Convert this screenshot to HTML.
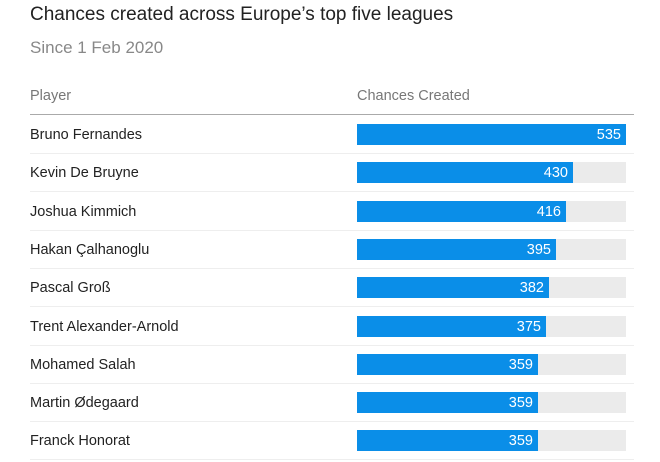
<!DOCTYPE html>
<html><head><style>
body{margin:0;width:660px;height:462px;background:#fff;font-family:"Liberation Sans",sans-serif;position:relative;overflow:hidden}
.t{position:absolute;left:30px;top:4px;font-size:19px;color:#222}
.s{position:absolute;left:30px;top:38px;font-size:17px;color:#888}
.h{position:absolute;top:88px;font-size:14.5px;color:#777}
.hl{position:absolute;left:30px;top:114px;width:604px;height:1px;background:#aaa}
.row{position:absolute;left:30px;width:604px;height:38px;border-bottom:1px solid #eee}
.n{position:absolute;left:0;top:12px;font-size:14.5px;color:#222}
.bg{position:absolute;left:327px;top:9px;width:269px;height:21px;background:#ebebeb}
.b{position:absolute;left:0;top:0;height:21px;background:#0a8ee8;color:#fff;font-size:14.5px;text-align:right;box-sizing:border-box;padding-right:5px;line-height:23px}
</style></head><body>
<div class="t">Chances created across Europe’s top five leagues</div>
<div class="s">Since 1 Feb 2020</div>
<div class="h" style="left:30px">Player</div>
<div class="h" style="left:357px">Chances Created</div>
<div class="hl"></div>
<div class="row" style="top:115px"><div class="n">Bruno Fernandes</div><div class="bg"><div class="b" style="width:269px">535</div></div></div>
<div class="row" style="top:153.3px"><div class="n">Kevin De Bruyne</div><div class="bg"><div class="b" style="width:216px">430</div></div></div>
<div class="row" style="top:191.6px"><div class="n">Joshua Kimmich</div><div class="bg"><div class="b" style="width:209px">416</div></div></div>
<div class="row" style="top:229.9px"><div class="n">Hakan Çalhanoglu</div><div class="bg"><div class="b" style="width:199px">395</div></div></div>
<div class="row" style="top:268.2px"><div class="n">Pascal Groß</div><div class="bg"><div class="b" style="width:192px">382</div></div></div>
<div class="row" style="top:306.5px"><div class="n">Trent Alexander-Arnold</div><div class="bg"><div class="b" style="width:189px">375</div></div></div>
<div class="row" style="top:344.8px"><div class="n">Mohamed Salah</div><div class="bg"><div class="b" style="width:181px">359</div></div></div>
<div class="row" style="top:383.1px"><div class="n">Martin Ødegaard</div><div class="bg"><div class="b" style="width:181px">359</div></div></div>
<div class="row" style="top:421.4px"><div class="n">Franck Honorat</div><div class="bg"><div class="b" style="width:181px">359</div></div></div>
</body></html>
